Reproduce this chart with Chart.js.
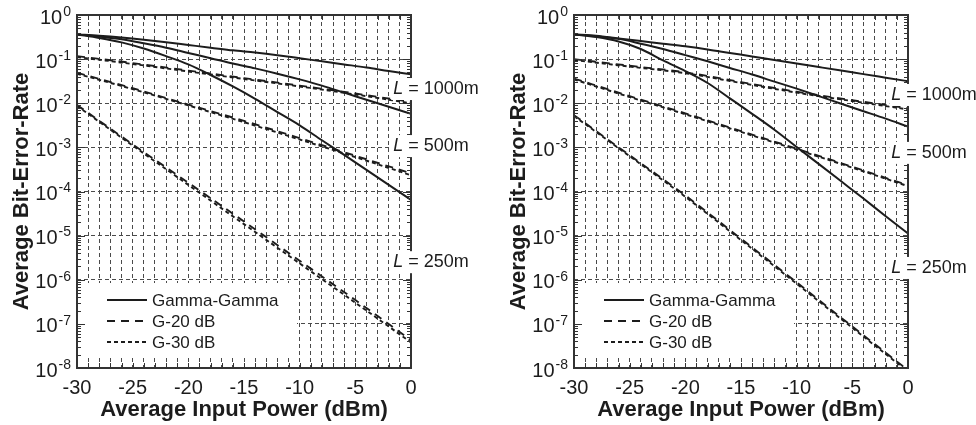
<!DOCTYPE html>
<html>
<head>
<meta charset="utf-8">
<script src="https://cdn.jsdelivr.net/npm/chart.js@4.4.1/dist/chart.umd.min.js"></script>
<style>
  html, body { margin: 0; padding: 0; background: #fff; }
  #wrap { display: flex; width: 976px; height: 425px; }
  canvas { display: block; }
</style>
</head>
<body>
<div id="wrap">
  <canvas id="left" width="488" height="425"></canvas>
  <canvas id="right" width="488" height="425"></canvas>
</div>
<script>
const powerFine = [-30, -28, -26, -24, -22, -20, -18, -16, -14, -12, -10, -8, -6, -4, -2, 0]
const powerCoarse = [-30, -25, -20, -15, -10, -5, 0]

const legendNames = ['Gamma-Gamma', 'G-20 dB', 'G-30 dB']
const yDecades = [1, 1e-1, 1e-2, 1e-3, 1e-4, 1e-5, 1e-6, 1e-7, 1e-8]
const yExponents = ['0', '-1', '-2', '-3', '-4', '-5', '-6', '-7', '-8']

// left panel, Gamma-Gamma (solid)
const leftGG1000 = [3.63e-1, 3.39e-1, 3.09e-1, 2.75e-1, 2.40e-1, 2.09e-1, 1.82e-1, 1.58e-1, 1.41e-1, 1.23e-1, 1.05e-1, 8.91e-2, 7.59e-2, 6.46e-2, 5.37e-2, 4.52e-2]
const leftGG500 = [3.63e-1, 3.24e-1, 2.82e-1, 2.29e-1, 1.82e-1, 1.38e-1, 1.05e-1, 7.94e-2, 6.17e-2, 4.68e-2, 3.47e-2, 2.51e-2, 1.74e-2, 1.20e-2, 8.32e-3, 5.75e-3]
const leftGG250 = [3.63e-1, 3.02e-1, 2.40e-1, 1.74e-1, 1.17e-1, 7.59e-2, 4.37e-2, 2.40e-2, 1.26e-2, 6.31e-3, 3.16e-3, 1.45e-3, 6.76e-4, 3.09e-4, 1.41e-4, 6.46e-5]
// left panel, G-20 dB / G-30 dB
const leftG20_1000 = [1.17e-1, 8.13e-2, 5.50e-2, 3.72e-2, 2.51e-2, 1.66e-2, 1.07e-2]
const leftG30_1000 = [1.12e-1, 7.76e-2, 5.25e-2, 3.55e-2, 2.40e-2, 1.58e-2, 1.00e-2]
const leftG20_500 = [4.90e-2, 2.19e-2, 9.33e-3, 3.98e-3, 1.62e-3, 6.46e-4, 2.57e-4]
const leftG30_500 = [4.68e-2, 2.09e-2, 8.91e-3, 3.72e-3, 1.51e-3, 6.03e-4, 2.34e-4]
const leftG20_250 = [9.12e-3, 1.17e-3, 1.58e-4, 2.09e-5, 2.69e-6, 3.47e-7, 4.27e-8]
const leftG30_250 = [8.71e-3, 1.10e-3, 1.41e-4, 1.82e-5, 2.34e-6, 3.02e-7, 3.80e-8]

// right panel, Gamma-Gamma (solid)
const rightGG1000 = [3.63e-1, 3.39e-1, 2.95e-1, 2.57e-1, 2.24e-1, 1.95e-1, 1.66e-1, 1.38e-1, 1.15e-1, 9.55e-2, 7.94e-2, 6.61e-2, 5.50e-2, 4.57e-2, 3.80e-2, 3.16e-2]
const rightGG500 = [3.63e-1, 3.31e-1, 2.88e-1, 2.24e-1, 1.70e-1, 1.23e-1, 8.91e-2, 6.31e-2, 4.47e-2, 3.09e-2, 2.14e-2, 1.45e-2, 9.77e-3, 6.61e-3, 4.47e-3, 2.95e-3]
const rightGG250 = [3.63e-1, 3.16e-1, 2.51e-1, 1.70e-1, 9.33e-2, 5.37e-2, 2.88e-2, 1.29e-2, 5.75e-3, 2.51e-3, 1.02e-3, 4.17e-4, 1.70e-4, 6.92e-5, 2.75e-5, 1.12e-5]
// right panel, G-20 dB / G-30 dB
const rightG20_1000 = [1.00e-1, 7.08e-2, 5.01e-2, 3.02e-2, 1.82e-2, 1.17e-2, 7.76e-3]
const rightG30_1000 = [9.55e-2, 6.76e-2, 4.79e-2, 2.88e-2, 1.74e-2, 1.12e-2, 7.24e-3]
const rightG20_500 = [3.63e-2, 1.45e-2, 5.89e-3, 2.34e-3, 9.33e-4, 3.63e-4, 1.38e-4]
const rightG30_500 = [3.47e-2, 1.38e-2, 5.62e-3, 2.24e-3, 8.91e-4, 3.47e-4, 1.32e-4]
const rightG20_250 = [5.37e-3, 6.61e-4, 8.13e-5, 8.51e-6, 8.71e-7, 8.71e-8, 8.91e-9]
const rightG30_250 = [5.13e-3, 6.31e-4, 7.59e-5, 7.94e-6, 8.13e-7, 8.13e-8, 8.32e-9]

const family = '"Liberation Sans", Arial, Helvetica, sans-serif'
const ink = '#1c1c1c'
const dashes = [[], [8, 6], [4, 3]]

Chart.defaults.font.family = family
Chart.defaults.color = ink

function toPoints(xs, ys) {
  return xs.map((x, i) => ({x: x, y: ys[i]}))
}

function series(kind, xs, ys) {
  return {
    label: legendNames[kind],
    data: toPoints(xs, ys),
    borderColor: ink,
    borderWidth: kind === 0 ? 2 : 1.9,
    borderDash: dashes[kind],
    pointRadius: 0,
    tension: 0.3,
    cubicInterpolationMode: 'monotone',
    fill: false
  }
}

// white legend box goes under the curves, over the grid
const frame = {
  id: 'frame',
  beforeDatasetsDraw(chart) {
    const {ctx, chartArea: a} = chart
    ctx.save()
    ctx.fillStyle = '#fff'
    ctx.fillRect(a.left + 1, a.bottom - 85, 219, 73)
    ctx.restore()
  },
  afterDatasetsDraw(chart) {
    const {ctx, chartArea: a, scales: {x, y}} = chart
    ctx.save()
    ctx.strokeStyle = '#333'
    ctx.lineWidth = 1
    ctx.setLineDash([])
    ctx.beginPath()
    for (let k = -8; k < 0; k++) {
      for (let m = 1; m < 10; m++) {
        const py = Math.round(y.getPixelForValue(m * Math.pow(10, k))) + 0.5
        const len = m === 1 ? 8 : 4
        ctx.moveTo(a.left, py); ctx.lineTo(a.left + len, py)
        ctx.moveTo(a.right, py); ctx.lineTo(a.right - len, py)
      }
    }
    for (let v = -29; v < 0; v++) {
      const px = Math.round(x.getPixelForValue(v)) + 0.5
      ctx.moveTo(px, a.bottom); ctx.lineTo(px, a.bottom - 5)
      ctx.moveTo(px, a.top); ctx.lineTo(px, a.top + 5)
    }
    ctx.stroke()
    ctx.lineWidth = 2
    ctx.strokeRect(a.left, a.top, a.right - a.left, a.bottom - a.top)

    // decade labels 10^k
    ctx.fillStyle = ink
    ctx.textBaseline = 'middle'
    ctx.textAlign = 'right'
    yDecades.forEach((v, i) => {
      const py = y.getPixelForValue(v)
      const xr = a.left - 6
      ctx.font = '14px ' + family
      const ew = ctx.measureText(yExponents[i]).width
      ctx.fillText(yExponents[i], xr, py - 3)
      ctx.font = '20px ' + family
      ctx.fillText('10', xr - ew - 1, py + 3)
    })
    ctx.restore()
  },
  afterDraw(chart) {
    const {ctx, chartArea: a, scales: {x, y}} = chart
    ctx.save()
    // legend
    legendNames.forEach((name, i) => {
      const ly = a.bottom - 68 + i * 21
      ctx.strokeStyle = ink
      ctx.lineWidth = 1.8
      ctx.setLineDash(dashes[i])
      ctx.beginPath()
      ctx.moveTo(a.left + 30, ly)
      ctx.lineTo(a.left + 70, ly)
      ctx.stroke()
      ctx.fillStyle = ink
      ctx.font = '17px ' + family
      ctx.textAlign = 'left'
      ctx.textBaseline = 'middle'
      ctx.fillText(name, a.left + 75, ly + 1)
    })
    // distance labels
    const notes = chart.options.plugins.frame.notes
    notes.forEach(n => {
      const px = x.getPixelForValue(n.x)
      const py = y.getPixelForValue(n.y)
      ctx.font = 'italic 18px ' + family
      const wl = ctx.measureText('L').width
      ctx.font = '18px ' + family
      const rest = ' = ' + n.text
      const wr = ctx.measureText(rest).width
      ctx.fillStyle = '#fff'
      ctx.fillRect(px - 2, py - 11, wl + wr + 4, 22)
      ctx.fillStyle = ink
      ctx.textAlign = 'left'
      ctx.textBaseline = 'middle'
      ctx.font = 'italic 18px ' + family
      ctx.fillText('L', px, py)
      ctx.font = '18px ' + family
      ctx.fillText(rest, px + wl, py)
    })
    ctx.restore()
  }
}

function makePanel(id, datasets, notes, pad) {
  return new Chart(document.getElementById(id), {
    type: 'line',
    data: {datasets: datasets},
    plugins: [frame],
    options: {
      responsive: false,
      animation: false,
      layout: {padding: pad},
      plugins: {
        legend: {display: false},
        tooltip: {enabled: false},
        frame: {notes: notes}
      },
      scales: {
        x: {
          type: 'linear',
          min: -30,
          max: 0,
          afterFit: s => { s.height = 57 },
          ticks: {
            stepSize: 1,
            autoSkip: false,
            maxRotation: 0,
            padding: 8,
            color: ink,
            font: {size: 20},
            callback: v => (v % 5 === 0 ? String(v) : '')
          },
          grid: {color: '#4a4a4a', lineWidth: 1, drawTicks: false},
          border: {display: false, dash: [4, 3]},
          title: {
            display: true,
            text: 'Average Input Power (dBm)',
            color: ink,
            font: {size: 22, weight: 'bold'},
            padding: {top: 0, bottom: 2}
          }
        },
        y: {
          type: 'logarithmic',
          min: 1e-8,
          max: 1,
          afterBuildTicks: s => { s.ticks = yDecades.map(v => ({value: v})) },
          afterFit: s => { s.width = 77 },
          ticks: {display: false},
          grid: {color: '#4a4a4a', lineWidth: 1, drawTicks: false},
          border: {display: false, dash: [4, 3]},
          title: {
            display: true,
            text: 'Average Bit-Error-Rate',
            color: ink,
            font: {size: 22, weight: 'bold'},
            padding: {top: 9, bottom: 0}
          }
        }
      }
    }
  })
}

makePanel('left', [
  series(0, powerFine, leftGG1000),
  series(0, powerFine, leftGG500),
  series(0, powerFine, leftGG250),
  series(1, powerCoarse, leftG20_1000),
  series(1, powerCoarse, leftG20_500),
  series(1, powerCoarse, leftG20_250),
  series(2, powerCoarse, leftG30_1000),
  series(2, powerCoarse, leftG30_500),
  series(2, powerCoarse, leftG30_250)
], [
  {text: '1000m', x: -1.6, y: 2.1e-2},
  {text: '500m', x: -1.6, y: 1.07e-3},
  {text: '250m', x: -1.6, y: 2.5e-6}
], {left: 0, right: 77, top: 15, bottom: 0})

makePanel('right', [
  series(0, powerFine, rightGG1000),
  series(0, powerFine, rightGG500),
  series(0, powerFine, rightGG250),
  series(1, powerCoarse, rightG20_1000),
  series(1, powerCoarse, rightG20_500),
  series(1, powerCoarse, rightG20_250),
  series(2, powerCoarse, rightG30_1000),
  series(2, powerCoarse, rightG30_500),
  series(2, powerCoarse, rightG30_250)
], [
  {text: '1000m', x: -1.5, y: 1.54e-2},
  {text: '500m', x: -1.5, y: 7.5e-4},
  {text: '250m', x: -1.5, y: 1.85e-6}
], {left: 9, right: 68, top: 15, bottom: 0})
</script>
</body>
</html>
